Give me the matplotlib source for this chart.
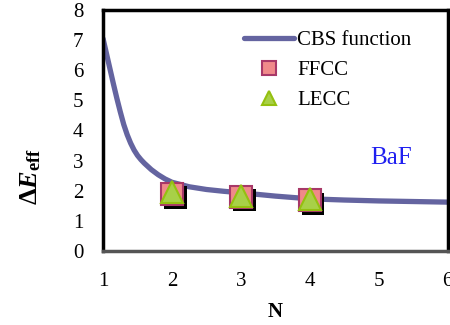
import numpy as np
import matplotlib
matplotlib.use('Agg')
import matplotlib.pyplot as plt
import matplotlib.patheffects as pe
from matplotlib.lines import Line2D

# CBS function
n_cbs = [1.0, 1.05, 1.1, 1.15, 1.2, 1.25, 1.3, 1.35, 1.4, 1.45, 1.5, 1.55, 1.6, 1.7, 1.8, 1.9, 2.0,
         2.25, 2.5, 2.75, 3.0, 3.5, 4.0, 4.5, 5.0, 5.5, 6.0]
e_cbs = [7.05, 6.55, 6.05, 5.55, 5.07, 4.62, 4.2, 3.86, 3.58, 3.35, 3.17, 3.03, 2.91, 2.7, 2.53, 2.39, 2.28,
         2.13, 2.04, 1.98, 1.93, 1.82, 1.73, 1.69, 1.66, 1.64, 1.62]

n_pts = [2, 3, 4]
e_ffcc = [1.89, 1.80, 1.68]
e_lecc = [1.94, 1.83, 1.72]

plt.rcParams['font.family'] = ['Liberation Serif', 'DejaVu Serif']
plt.rcParams['mathtext.fontset'] = 'custom'
plt.rcParams['mathtext.rm'] = 'Liberation Serif:bold'
plt.rcParams['mathtext.bf'] = 'Liberation Serif:bold'
plt.rcParams['mathtext.it'] = 'Liberation Serif:bold:italic'

fig = plt.figure(figsize=(4.5, 3.25), dpi=100)
ax = fig.add_axes([0.229, 0.228, 0.766, 0.741])

cbs_style = dict(color='#6464A0', lw=3.8, solid_capstyle='round', solid_joinstyle='round')
ffcc_style = dict(ls='none', marker='s', mfc='#F08A8A', mec='#A83868', mew=1.5)
lecc_style = dict(ls='none', marker='^', mfc='#A8D048', mec='#94C010', mew=1.5)

ax.plot(n_cbs, e_cbs, zorder=2, **cbs_style)
ax.plot(n_pts, e_ffcc, ms=16, zorder=3,
        path_effects=[pe.SimplePatchShadow(offset=(2.5, -2.5), shadow_rgbFace='k', alpha=1), pe.Normal()],
        **ffcc_style)
ax.plot(n_pts, e_lecc, ms=16, zorder=4, **lecc_style)

ax.set_xlim(1, 6)
ax.set_ylim(0, 8)
ax.set_xticks([1, 2, 3, 4, 5, 6])
ax.set_yticks(range(9))
ax.tick_params(length=0, labelsize=15)
ax.tick_params(axis='x', pad=15)
ax.tick_params(axis='y', pad=14)

for s in ax.spines.values():
    s.set_linewidth(2.5)
    s.set_color('black')
ax.spines['bottom'].set_color('#555555')

ax.set_xlabel('N', fontsize=15, fontweight='bold', labelpad=8)
ax.set_ylabel(r'$\Delta\mathit{E}_{\mathrm{eff}}$', fontsize=19)
ax.yaxis.set_label_coords(-0.175, 0.31)

ax.text(5.18, 3.1, 'BaF', color='#2020F0', fontsize=18, ha='center', va='center')

handles = [Line2D([], [], **cbs_style),
           Line2D([], [], ms=10, **ffcc_style),
           Line2D([], [], ms=10, **lecc_style)]
ax.legend(handles, ['CBS function', 'FFCC', 'LECC'], loc='upper left', bbox_to_anchor=(0.385, 0.95),
          frameon=False, fontsize=15, handlelength=2.4, handletextpad=0.15, labelspacing=0.5,
          borderaxespad=0)

fig.savefig('out.png', dpi=100)
